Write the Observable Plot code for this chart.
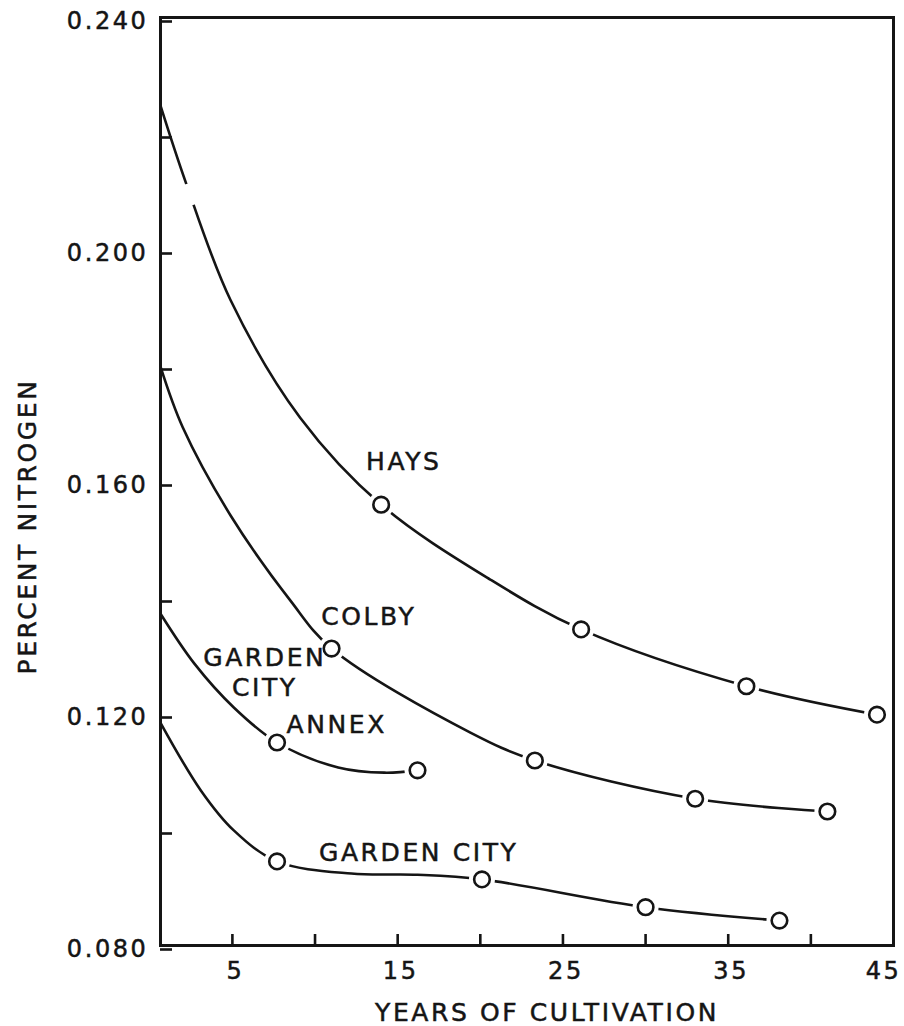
<!DOCTYPE html>
<html>
<head>
<meta charset="utf-8">
<script src="https://cdn.jsdelivr.net/npm/d3@7"></script>
<script src="https://cdn.jsdelivr.net/npm/@observablehq/plot@0.6"></script>
<style>
  body { margin: 0; background: #fff; }
  #chart svg { display: block; }
  #chart svg text { letter-spacing: 2.6px; stroke: #151515; stroke-width: 0.5px; }
</style>
</head>
<body>
<div id="chart"></div>
<script>
// Axis extents, tick positions and tick labels
const xStart = 0.65, xEnd = 45;
const yMin = 0.08, yMax = 0.24;
const xTickValues = [5, 10, 15, 20, 25, 30, 35, 40];
const xLabelValues = [5, 15, 25, 35, 45];
const yTickValues = [0.08, 0.10, 0.12, 0.14, 0.16, 0.18, 0.20, 0.22, 0.24];
const yLabelValues = [0.08, 0.12, 0.16, 0.20, 0.24];
const yLabelText = ["0.080", "0.120", "0.160", "0.200", "0.240"];
const xTitle = "YEARS OF CULTIVATION";
const yTitle = "PERCENT NITROGEN";

// Sampled soils: years of cultivation and percent nitrogen
const haysYears = [14.0, 26.1, 36.1, 44.0];
const haysN     = [0.1560, 0.1345, 0.1247, 0.1198];
const colbyYears = [11.0, 23.3, 33.0, 41.0];
const colbyN     = [0.1312, 0.1119, 0.1053, 0.1031];
const annexYears = [7.7, 16.2];
const annexN     = [0.1150, 0.1102];
const gardenYears = [7.7, 20.1, 30.0, 38.1];
const gardenN     = [0.0945, 0.0914, 0.0866, 0.0843];

// Smoothed decline curves, starting from the virgin-soil level at the axis
const haysCurveYears = [0.65, 2.2, 4.9, 9.1, 14.0, 20.6, 26.1, 36.1, 44.0];
const haysCurveN     = [0.2248, 0.2114, 0.1912, 0.1710, 0.1560, 0.1431, 0.1345, 0.1247, 0.1198];
const colbyCurveYears = [0.65, 2.0, 4.9, 8.5, 11.0, 19.4, 23.3, 33.0, 41.0];
const colbyCurveN     = [0.1798, 0.1693, 0.1541, 0.1395, 0.1312, 0.1167, 0.1119, 0.1053, 0.1031];
const annexCurveYears = [0.65, 2.7, 5.1, 7.7, 11.4, 14.2, 16.2];
const annexCurveN     = [0.1372, 0.1286, 0.1210, 0.1150, 0.1107, 0.1098, 0.1102];
const gardenCurveYears = [0.65, 3.1, 5.1, 7.7, 12.2, 16.2, 20.1, 30.0, 38.1];
const gardenCurveN     = [0.1184, 0.1067, 0.0998, 0.0945, 0.0924, 0.0922, 0.0914, 0.0866, 0.0843];

// Break in the Hays line near its start
const haysBreakYears = [2.42];
const haysBreakN = [0.2095];

// Curve labels
const labelText  = ["HAYS", "COLBY", "GARDEN\nCITY", "ANNEX", "GARDEN CITY"];
const labelYears = [15.37, 13.25, 6.96, 11.31, 16.27];
const labelN     = [0.1636, 0.1369, 0.1272, 0.1183, 0.0962];

const zip = (xs, ys) => xs.map((x, i) => ({year: x, n: ys[i]}));

const curves = [
  zip(haysCurveYears, haysCurveN),
  zip(colbyCurveYears, colbyCurveN),
  zip(annexCurveYears, annexCurveN),
  zip(gardenCurveYears, gardenCurveN)
];
const samples = [
  ...zip(haysYears, haysN),
  ...zip(colbyYears, colbyN),
  ...zip(annexYears, annexN),
  ...zip(gardenYears, gardenN)
];
const breaks = zip(haysBreakYears, haysBreakN);
const labels = labelText.map((t, i) => ({text: t, year: labelYears[i], n: labelN[i]}));

const ink = "#151515";

const chart = Plot.plot({
  width: 904,
  height: 1026,
  marginLeft: 160,
  marginRight: 11,
  marginTop: 17,
  marginBottom: 81,
  style: {fontFamily: "'DejaVu Sans', sans-serif", color: ink, background: "#fff"},
  x: {domain: [xStart, xEnd]},
  y: {domain: [yMin, yMax]},
  marks: [
    // decline curves
    ...curves.map(c => Plot.line(c, {x: "year", y: "n", curve: "catmull-rom", stroke: ink, strokeWidth: 2.6})),
    // white gaps where lines stop short of the sample circles
    Plot.dot(samples, {x: "year", y: "n", r: 13, fill: "white"}),
    Plot.dot(breaks, {x: "year", y: "n", r: 11, fill: "white"}),
    // sample circles
    Plot.dot(samples, {x: "year", y: "n", r: 7.8, fill: "white", stroke: ink, strokeWidth: 2.6}),
    // curve labels
    Plot.text(labels, {x: "year", y: "n", text: "text", fontSize: 25, lineHeight: 1.2, fill: ink}),
    // y axis: ticks shifted to point into the frame, labels outside
    Plot.axisY(yTickValues, {
      anchor: "left",
      tickSize: 12,
      dx: 12,
      tickPadding: 12,
      strokeWidth: 2.6,
      fontSize: 24,
      dy: 4,
      label: null,
      tickFormat: d => {
        const i = yLabelValues.indexOf(d);
        return i >= 0 ? yLabelText[i] : "";
      }
    }),
    // x axis: ticks pointing up into the frame
    Plot.axisX(xTickValues, {
      anchor: "bottom",
      tickSize: 11,
      dy: -11,
      strokeWidth: 2.6,
      label: null,
      tickFormat: () => ""
    }),
    // x tick labels
    Plot.text(xLabelValues.filter(v => v < xEnd), {
      x: d => d, text: d => String(d), frameAnchor: "bottom",
      lineAnchor: "top", dy: 16, dx: 3, fontSize: 24, fill: ink
    }),
    Plot.text(xLabelValues.filter(v => v >= xEnd), {
      x: d => d, text: d => String(d), frameAnchor: "bottom",
      lineAnchor: "top", textAnchor: "end", dy: 16, dx: 8, fontSize: 24, fill: ink
    }),
    // axis titles
    Plot.text([xTitle], {text: d => d, frameAnchor: "bottom", textAnchor: "middle", lineAnchor: "middle", dx: 20, dy: 67, fontSize: 25, fill: ink}),
    Plot.text([yTitle], {text: d => d, frameAnchor: "left", textAnchor: "middle", rotate: -90, lineAnchor: "middle", dx: -133, dy: 45, fontSize: 25, fill: ink}),
    // frame
    Plot.frame({stroke: ink, strokeWidth: 3})
  ]
});

document.getElementById("chart").append(chart);
</script>
</body>
</html>
